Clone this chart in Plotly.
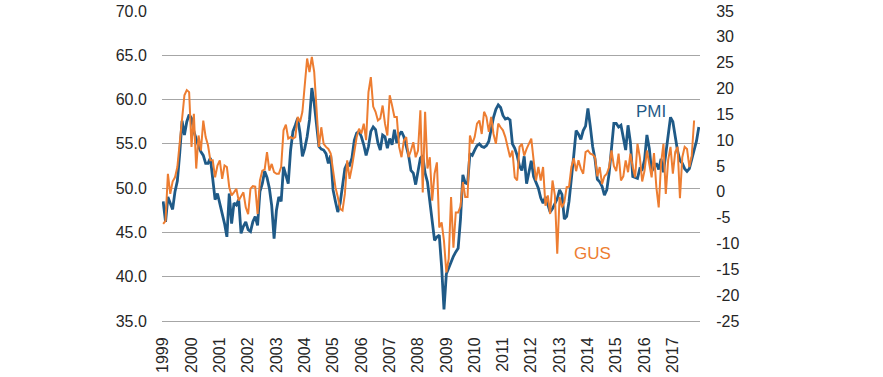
import plotly.graph_objects as go
import pandas as pd

# ---- data -------------------------------------------------------------
months = [d.strftime("%Y-%m") for d in pd.date_range("1999-01-01", "2017-12-01", freq="MS")]

pmi = [
    48.5, 46.2, 49.0, 48.2, 47.6, 49.6, 50.8, 53.9, 57.6, 56.0, 57.5, 58.3,   # 1999
    57.9, 56.4, 55.4, 54.7, 54.1, 53.7, 52.8, 52.8, 53.4, 51.3, 48.7, 49.4,   # 2000
    48.3, 47.2, 46.0, 44.5, 49.4, 46.0, 48.3, 48.1, 48.7, 44.9, 45.7, 46.2,   # 2001
    45.3, 45.1, 46.2, 46.8, 45.8, 49.6, 50.5, 51.9, 51.2, 50.0, 48.0, 44.3,   # 2002
    47.5, 49.0, 48.5, 52.4, 51.5, 50.5, 54.3, 56.4, 57.1, 57.9, 56.2, 53.6,   # 2003
    54.5, 55.8, 57.7, 61.3, 59.6, 57.1, 54.7, 54.4, 54.3, 53.9, 52.8, 53.7,   # 2004
    49.8, 48.5, 47.3, 48.3, 50.2, 52.2, 52.8, 52.6, 53.4, 55.4, 56.2, 56.4,   # 2005
    55.8, 54.9, 53.7, 54.7, 56.4, 56.9, 56.6, 55.1, 54.3, 56.0, 55.8, 54.5,   # 2006
    55.6, 54.9, 56.6, 55.1, 56.0, 56.4, 55.8, 54.7, 53.7, 52.0, 51.7, 50.4,   # 2007
    51.7, 53.4, 53.7, 51.7, 50.7, 48.3, 46.0, 44.1, 44.5, 44.7, 41.1, 36.3,   # 2008
    40.3, 41.0, 41.8, 42.3, 42.8, 43.2, 46.5, 51.5, 50.6, 50.5, 53.9, 53.7,   # 2009
    54.3, 54.8, 55.0, 54.7, 54.6, 54.8, 55.3, 56.8, 58.0, 58.9, 59.4, 59.1,   # 2010
    58.2, 57.8, 57.9, 57.7, 55.0, 54.5, 53.7, 52.5, 52.0, 53.6, 50.5, 51.8,   # 2011
    53.1, 51.3, 50.7, 50.0, 48.9, 48.3, 49.0, 48.0, 47.3, 47.7, 48.3, 48.8,   # 2012
    49.8, 49.3, 46.5, 46.8, 48.5, 51.5, 53.7, 56.5, 56.1, 55.5, 56.5, 57.0,   # 2013
    59.0, 57.0, 54.7, 53.3, 51.0, 50.7, 50.2, 49.2, 49.8, 51.7, 55.0, 57.3,   # 2014
    57.3, 56.9, 57.1, 55.5, 54.3, 57.1, 55.2, 51.3, 51.2, 51.1, 52.2, 52.1,   # 2015
    53.2, 56.0, 54.5, 51.9, 52.3, 52.8, 52.1, 53.3, 51.8, 54.0, 56.2, 58.0,   # 2016
    57.5, 55.8, 54.2, 53.1, 52.8, 52.2, 51.9, 52.2, 53.4, 54.3, 55.3, 56.9,   # 2017
]

gus = [
    -6.2, -5.6, 3.5, -0.4, 2.0, 2.8, 4.8, 9.9, 13.8, 18.7, 19.7, 19.3,        # 1999
    8.7, 15.1, 4.5, 10.9, 8.0, 13.8, 10.6, 9.0, 6.1, 6.1, 2.8, 5.1,           # 2000
    6.1, 2.5, 5.1, 4.8, 0.9, -0.7, -0.1, 0.6, -1.7, -1.0, -0.1, -3.0,         # 2001
    -4.3, 0.6, 1.1, 1.0, -4.3, 2.2, 4.1, 4.3, 7.7, 4.1, 5.4, 3.8,             # 2002
    3.5, 3.5, 4.8, 11.9, 13.0, 10.3, 10.6, 10.3, 10.6, 14.5, 13.5, 15.5,      # 2003
    20.3, 25.8, 23.2, 26.1, 23.2, 16.0, 8.7, 12.5, 9.3, 8.7, 8.3, 7.4,        # 2004
    4.5, 0.9, -1.0, -3.3, -3.6, -0.4, 6.1, 2.5, 4.8, 8.0, 10.6, 12.2,         # 2005
    11.3, 13.2, 10.0, 19.3, 22.2, 16.5, 15.5, 13.8, 14.2, 16.7, 13.2, 10.9,   # 2006
    18.7, 16.7, 14.5, 14.5, 8.7, 6.7, 9.9, 10.6, 6.7, 8.0, 9.6, 6.7,          # 2007
    8.0, 15.8, -0.1, 15.5, 4.5, 6.7, -1.7, 3.5, 5.7, -6.9, -5.9, -9.5,        # 2008
    -15.6, -13.0, -1.0, -10.8, -4.0, -4.0, -2.8, 1.9, -1.0, -1.0, 10.9, 9.3,  # 2009
    10.6, 13.2, 13.8, 11.2, 15.5, 14.5, 11.6, 14.5, 11.2, 9.3, 13.2, 12.5,    # 2010
    11.9, 10.6, 8.3, 6.7, 8.0, 2.8, 2.2, 8.7, 9.3, 7.0, 8.3, 9.3,             # 2011
    10.3, 6.1, 2.2, 4.8, 2.2, 4.8, -2.7, -0.7, -4.3, 2.2, -0.7, -12.0,        # 2012
    -1.0, -3.0, -2.0, 0.9, 1.0, 4.8, 6.5, 4.0, 6.1, 4.5, 3.5, 7.7,            # 2013
    8.0, 7.4, 7.2, 6.7, 3.0, 4.8, 1.5, 3.0, 3.5, 4.8, 8.0, 5.0,               # 2014
    4.0, 7.4, 2.2, 3.0, 6.1, 3.8, 7.4, 4.8, 2.8, 9.3, 6.7, 2.0,               # 2015
    4.1, 8.0, 5.0, 2.8, 7.5, 0.9, -3.0, 5.5, 9.3, -0.4, 6.1, 8.7,             # 2016
    3.5, 7.7, 8.7, -1.25, 6.7, 8.7, 8.3, 4.8, 7.0, 13.8, None, None,          # 2017
]

year_ticks = [m for m in months if m.endswith("-01")]
year_labels = [m[:4] for m in year_ticks]

left_ticks = [35, 40, 45, 50, 55, 60, 65, 70]
left_labels = ["35.0", "40.0", "45.0", "50.0", "55.0", "60.0", "65.0", "70.0"]
right_ticks = [-25, -20, -15, -10, -5, 0, 5, 10, 15, 20, 25, 30, 35]
right_labels = ["-25", "-20", "-15", "-10", "-5", "0", "5", "10", "15", "20", "25", "30", "35"]

# ---- figure -----------------------------------------------------------
BLUE = "#1F5A87"
ORANGE = "#ED7D31"
TXT = "#262626"
GRID = "#A6A6A6"
FONT = "Liberation Sans, Arial, sans-serif"

fig = go.Figure()
fig.add_trace(go.Scatter(x=months, y=pmi, name="PMI", mode="lines",
                         line=dict(color=BLUE, width=2.8), yaxis="y"))
fig.add_trace(go.Scatter(x=months, y=gus, name="GUS", mode="lines",
                         line=dict(color=ORANGE, width=2.0), yaxis="y2",
                         connectgaps=False))

fig.update_layout(
    width=883, height=377,
    margin=dict(l=162, r=183, t=11, b=56, autoexpand=False),
    paper_bgcolor="white", plot_bgcolor="white",
    showlegend=False,
    font=dict(family=FONT, size=16, color=TXT),
    xaxis=dict(
        type="category", categoryorder="array", categoryarray=months,
        range=[-0.5, len(months) - 0.5], automargin=False,
        tickmode="array", tickvals=year_ticks, ticktext=year_labels,
        tickangle=-90, showgrid=False, zeroline=False,
        showline=True, linecolor=GRID, linewidth=1,
        ticks="outside", ticklen=9, tickcolor="rgba(0,0,0,0)",
        tickfont=dict(size=16, color=TXT),
    ),
    yaxis=dict(
        range=[35, 70], automargin=False,
        tickmode="array", tickvals=left_ticks, ticktext=left_labels,
        showgrid=True, gridcolor=GRID, gridwidth=1, zeroline=False, showline=False,
        ticks="outside", ticklen=11, tickcolor="rgba(0,0,0,0)",
        tickfont=dict(size=16, color=TXT),
    ),
    yaxis2=dict(
        range=[-25, 35], overlaying="y", side="right", automargin=False,
        tickmode="array", tickvals=right_ticks, ticktext=right_labels,
        showgrid=False, zeroline=False, showline=False,
        ticks="outside", ticklen=12, tickcolor="rgba(0,0,0,0)",
        tickfont=dict(size=16, color=TXT),
    ),
    annotations=[
        dict(text="PMI", xref="paper", yref="paper", x=0.909, y=0.676,
             xanchor="center", yanchor="middle", showarrow=False,
             font=dict(family=FONT, size=17, color=BLUE)),
        dict(text="GUS", xref="paper", yref="paper", x=0.801, y=0.219,
             xanchor="center", yanchor="middle", showarrow=False,
             font=dict(family=FONT, size=17, color=ORANGE)),
    ],
)

fig.write_html(
    "out.html",
    config={"displayModeBar": False, "staticPlot": True},
    post_script="document.body.style.margin='0';document.body.style.overflow='hidden';",
)
